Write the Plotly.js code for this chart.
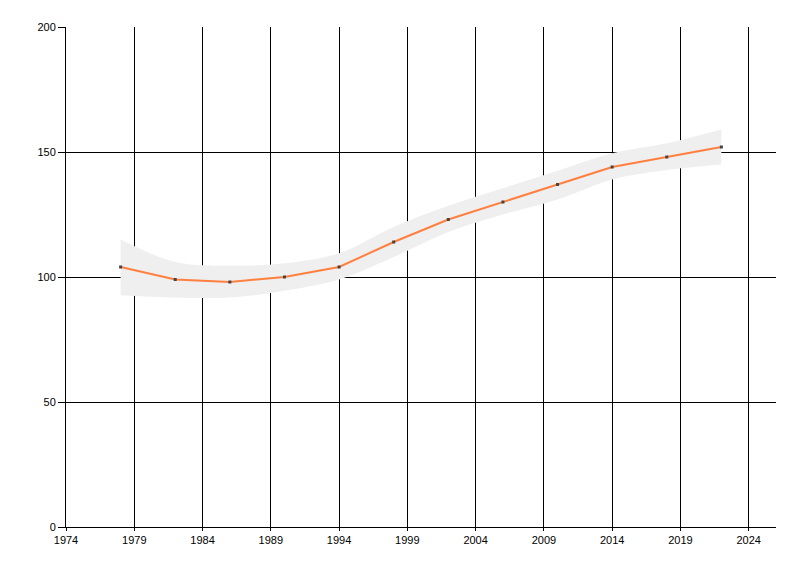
<!DOCTYPE html>
<html>
<head>
<meta charset="utf-8">
<script src="https://cdn.plot.ly/plotly-3.0.1.min.js"></script>
<style>
  html, body { margin: 0; padding: 0; background: #fff; }
  #chart { width: 800px; height: 576px; }
</style>
</head>
<body>
<div id="chart"></div>
<script>
// values
const years = [1978, 1982, 1986, 1990, 1994, 1998, 2002, 2006, 2010, 2014, 2018, 2022];
const values = [104, 99, 98, 100, 104, 114, 123, 130, 137, 144, 148, 152];
const upper = [115, 106, 104.5, 105.5, 109.5, 120, 128.5, 135.5, 142.5, 149.5, 153.5, 159];
const lower = [92.7, 91.8, 91.8, 94.5, 99, 108, 118, 125, 131, 139, 142.8, 145];

const bandLower = {
  x: years,
  y: lower,
  mode: 'lines',
  line: { width: 0, shape: 'spline', color: 'rgba(0,0,0,0)' },
  hoverinfo: 'skip',
  showlegend: false,
};

const bandUpper = {
  x: years,
  y: upper,
  mode: 'lines',
  fill: 'tonexty',
  fillcolor: '#efefef',
  line: { width: 0, shape: 'spline', color: 'rgba(0,0,0,0)' },
  hoverinfo: 'skip',
  showlegend: false,
};

const mainLine = {
  x: years,
  y: values,
  mode: 'lines+markers',
  line: { color: '#ff7f3f', width: 2 },
  marker: { symbol: 'square', size: 3, color: '#444' },
  showlegend: false,
};

const axisFont = { family: 'Liberation Sans, Arial, sans-serif', size: 11, color: '#000' };

const layout = {
  width: 800,
  height: 576,
  margin: { l: 66, r: 24, t: 27, b: 49 },
  paper_bgcolor: '#fff',
  plot_bgcolor: '#fff',
  showlegend: false,
  xaxis: {
    range: [1974, 2026],
    tick0: 1974,
    dtick: 5,
    showgrid: true,
    gridcolor: '#000',
    gridwidth: 1,
    zeroline: false,
    showline: true,
    linecolor: '#000',
    linewidth: 1,
    ticks: 'outside',
    ticklen: 3,
    tickcolor: '#000',
    tickfont: axisFont,
  },
  yaxis: {
    range: [0, 200],
    tick0: 0,
    dtick: 50,
    showgrid: true,
    gridcolor: '#000',
    gridwidth: 1,
    zeroline: false,
    showline: true,
    linecolor: '#000',
    linewidth: 1,
    ticks: 'outside',
    ticklen: 7,
    tickcolor: '#000',
    tickfont: axisFont,
  },
};

Plotly.newPlot('chart', [bandLower, bandUpper, mainLine], layout, { displayModeBar: false, staticPlot: true });
</script>
</body>
</html>
